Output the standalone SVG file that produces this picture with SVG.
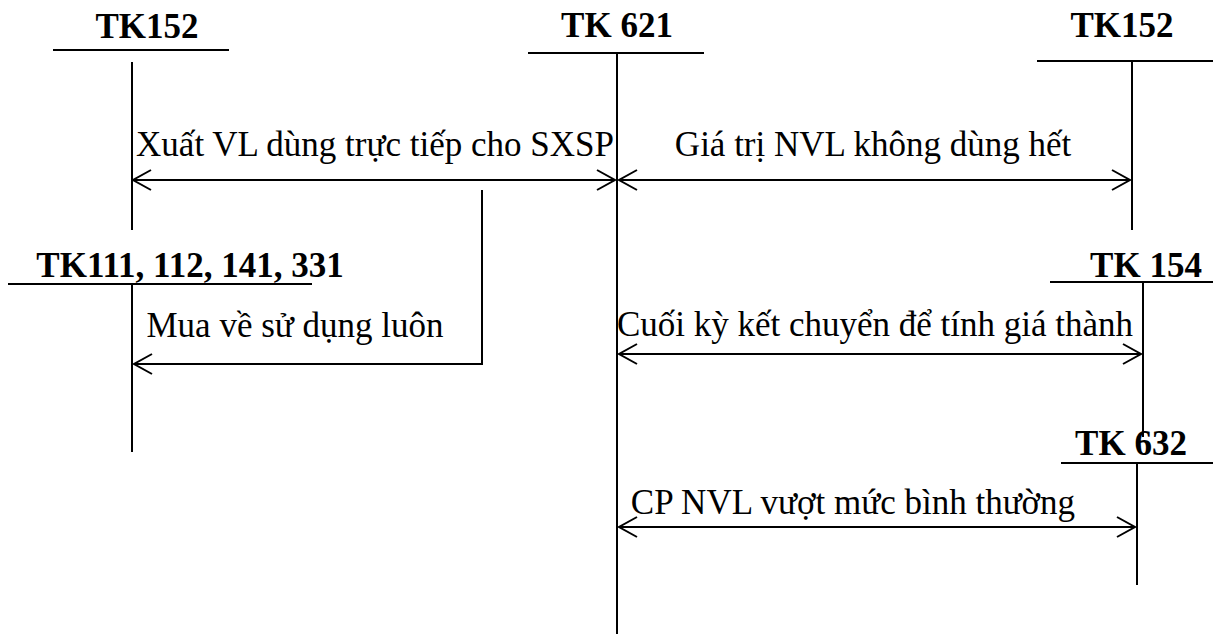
<svg xmlns="http://www.w3.org/2000/svg" width="1215" height="637" viewBox="0 0 1215 637">
  <style>
    .ln { stroke: #000; stroke-width: 2; fill: none; }
    .hd { font-family: "Liberation Serif", "Times New Roman", serif; font-weight: bold; font-size: 35px; fill: #000; }
    .lb { font-family: "Liberation Serif", "Times New Roman", serif; font-size: 35px; fill: #000; }
  </style>
  <defs>
    <marker id="arr" markerUnits="userSpaceOnUse" markerWidth="24" markerHeight="24" viewBox="-20 -12 24 24" refX="0" refY="0" orient="auto-start-reverse">
      <path d="M -18 -10 L 0 0 L -18 10" fill="none" stroke="#000" stroke-width="2"/>
    </marker>
  </defs>
  <rect width="1215" height="637" fill="#fff"/>

  <!-- T-accounts -->
  <g id="tk152-left">
    <text class="hd" x="147" y="38" text-anchor="middle">TK152</text>
    <line class="ln" x1="53" y1="50" x2="229" y2="50"/>
    <line class="ln" x1="132" y1="62" x2="132" y2="230"/>
  </g>
  <g id="tk621">
    <text class="hd" x="617" y="37" text-anchor="middle">TK 621</text>
    <line class="ln" x1="528" y1="53" x2="704" y2="53"/>
    <line class="ln" x1="617" y1="53" x2="617" y2="634"/>
  </g>
  <g id="tk152-right">
    <text class="hd" x="1122" y="37" text-anchor="middle">TK152</text>
    <line class="ln" x1="1037" y1="61" x2="1213" y2="61"/>
    <line class="ln" x1="1132" y1="61" x2="1132" y2="230"/>
  </g>
  <g id="tk111">
    <text class="hd" x="190" y="277" text-anchor="middle">TK111, 112, 141, 331</text>
    <line class="ln" x1="8" y1="284" x2="312" y2="284"/>
    <line class="ln" x1="132" y1="284" x2="132" y2="452"/>
  </g>
  <g id="tk154">
    <text class="hd" x="1146" y="277" text-anchor="middle">TK 154</text>
    <line class="ln" x1="1050" y1="282" x2="1213" y2="282"/>
    <line class="ln" x1="1143" y1="282" x2="1143" y2="437"/>
  </g>
  <g id="tk632">
    <text class="hd" x="1131" y="455" text-anchor="middle">TK 632</text>
    <line class="ln" x1="1061" y1="463" x2="1213" y2="463"/>
    <line class="ln" x1="1137" y1="463" x2="1137" y2="585"/>
  </g>

  <!-- Postings -->
  <g id="connectors">
    <line class="ln" x1="133" y1="180" x2="615" y2="180" marker-start="url(#arr)" marker-end="url(#arr)"/>
    <line class="ln" x1="619" y1="180" x2="1130" y2="180" marker-start="url(#arr)" marker-end="url(#arr)"/>
    <path class="ln" d="M 482 190 L 482 364 L 134 364" marker-end="url(#arr)"/>
    <line class="ln" x1="619" y1="354" x2="1141" y2="354" marker-start="url(#arr)" marker-end="url(#arr)"/>
    <line class="ln" x1="619" y1="527" x2="1135" y2="527" marker-start="url(#arr)" marker-end="url(#arr)"/>
  </g>

  <g id="labels">
    <text class="lb" x="375" y="156" text-anchor="middle">Xuất VL dùng trực tiếp cho SXSP</text>
    <text class="lb" x="873" y="156" text-anchor="middle">Giá trị NVL không dùng hết</text>
    <text class="lb" x="295" y="337" text-anchor="middle">Mua về sử dụng luôn</text>
    <text class="lb" x="875" y="336" text-anchor="middle">Cuối kỳ kết chuyển để tính giá thành</text>
    <text class="lb" x="853" y="514" text-anchor="middle">CP NVL vượt mức bình thường</text>
  </g>
</svg>
